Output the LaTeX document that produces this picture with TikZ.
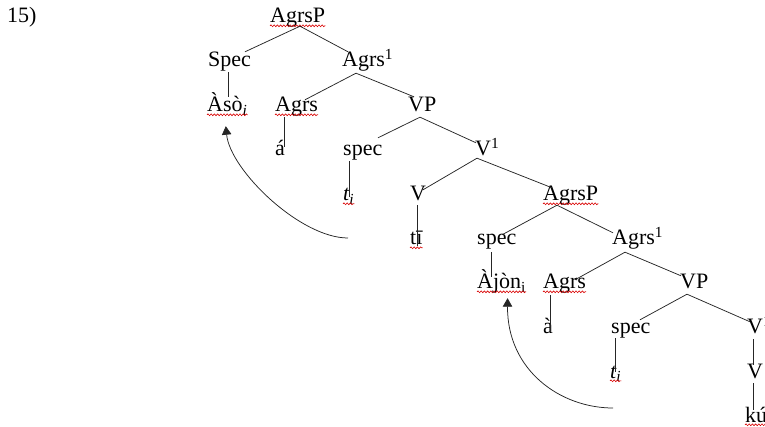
\documentclass[tikz,border=0pt]{standalone}
\usepackage{fontspec}
\setmainfont{Liberation Serif}
\usetikzlibrary{arrows.meta,decorations.pathmorphing,calc}

\tikzset{
  lab/.style={anchor=base west, inner sep=0pt, text height=15pt, text depth=5pt,
              font=\fontsize{22}{26}\selectfont},
  branch/.style={draw=black!85, line width=0.75pt},
  squig/.style={draw=red!85!black, line width=0.6pt, decorate,
                decoration={snake, amplitude=0.9pt, segment length=3.2pt}},
  movearrow/.style={draw=black!85, line width=0.75pt, -{Triangle[width=9.5pt,length=8.5pt]}},
}

\begin{document}
\begin{tikzpicture}[x=1pt,y=-1pt]
\path[use as bounding box] (0,0) rectangle (765,427);

% example number
\node[lab] (num) at (7,23) {15)};

% labels, one row per tree level
\node[lab] (AgrsP0)   at (270,23)  {AgrsP};
\node[lab] (Spec1)    at (208,67)  {Spec};
\node[lab] (AgrsBar1) at (342,67)  {Agrs\textsuperscript{1}};
\node[lab] (Aso2)     at (207,112) {Àsò\textsubscript{\itshape i}};
\node[lab] (Agrs2)    at (275,112) {Agrs};
\node[lab] (VP2)      at (408,112) {VP};
\node[lab] (a3)       at (275,156) {á};
\node[lab] (spec3)    at (343,156) {spec};
\node[lab] (Vbar3)    at (475,156) {V\textsuperscript{1}};
\node[lab] (t4)       at (343,201) {\textit{t\textsubscript{i}}};
\node[lab] (V4)       at (410,201) {V};
\node[lab] (AgrsP4)   at (543,201) {AgrsP};
\node[lab] (ti5)      at (410,245) {tī};
\node[lab] (spec5)    at (477,245) {spec};
\node[lab] (AgrsBar5) at (612,245) {Agrs\textsuperscript{1}};
\node[lab] (Ajon6)    at (477,289) {Àjòn\textsubscript{i}};
\node[lab] (Agrs6)    at (543,289) {Agrs};
\node[lab] (VP6)      at (680,289) {VP};
\node[lab] (a7)       at (543,334) {à};
\node[lab] (spec7)    at (611,334) {spec};
\node[lab] (Vbar7)    at (747,334) {V\textsuperscript{1}};
\node[lab] (t8)       at (610,378) {\textit{t\textsubscript{i}}};
\node[lab] (V8)       at (747,378) {V};
\node[lab] (ku9)      at (745,422) {kú};

% spell-check underlines
\foreach \n in {AgrsP0,Aso2,Agrs2,t4,ti5,AgrsP4,Ajon6,Agrs6,t8,ku9}
  \draw[squig] ([yshift=-2.8pt]\n.base west) -- ([yshift=-2.8pt]\n.base east);

% branching edges
\draw[branch] ([xshift=30pt,yshift=2pt]AgrsP0.south west) -- ([xshift=37pt]Spec1.north west);
\draw[branch] ([xshift=30pt,yshift=2pt]AgrsP0.south west) -- ([xshift=6pt]AgrsBar1.north west);
\draw[branch] ([xshift=14pt,yshift=-1pt]AgrsBar1.south west) -- ([xshift=30pt,yshift=-3pt]Agrs2.north west);
\draw[branch] ([xshift=14pt,yshift=-1pt]AgrsBar1.south west) -- ([xshift=6pt]VP2.north west);
\draw[branch] ([xshift=12pt]VP2.south west) -- ([xshift=35pt,yshift=3pt]spec3.north west);
\draw[branch] ([xshift=12pt]VP2.south west) -- ([xshift=1pt,yshift=-2pt]Vbar3.north west);
\draw[branch] ([xshift=2pt,yshift=3pt]Vbar3.south west) -- ([xshift=13pt,yshift=-4pt]V4.north west);
\draw[branch] ([xshift=2pt,yshift=3pt]Vbar3.south west) -- ([xshift=9pt,yshift=-2pt]AgrsP4.north west);
\draw[branch] ([xshift=14pt,yshift=1pt]AgrsP4.south west) -- ([xshift=25pt,yshift=-5pt]spec5.north west);
\draw[branch] ([xshift=14pt,yshift=1pt]AgrsP4.south west) -- ([xshift=1pt,yshift=-3pt]AgrsBar5.north west);
\draw[branch] ([xshift=13pt,yshift=-2pt]AgrsBar5.south west) -- ([xshift=32pt,yshift=-6pt]Agrs6.north west);
\draw[branch] ([xshift=13pt,yshift=-2pt]AgrsBar5.south west) -- ([xshift=1pt,yshift=-2pt]VP6.north west);
\draw[branch] ([xshift=7pt]VP6.south west) -- ([xshift=29pt,yshift=-1pt]spec7.north west);
\draw[branch] ([xshift=7pt]VP6.south west) -- ([xshift=3pt,yshift=-3pt]Vbar7.north west);

% unary (vertical) edges
\draw[branch] ([xshift=20pt]Spec1.south west) coordinate (u1) -- (u1 |- Aso2.north);
\draw[branch] ([xshift=9pt]Agrs2.south west) coordinate (u2) -- ($(u2 |- a3.north)+(0,-6pt)$);
\draw[branch] ([xshift=6pt]spec3.south west) coordinate (u3) -- ($(u3 |- t4.north)+(0,-11pt)$);
\draw[branch] ([xshift=7pt,yshift=1pt]V4.south west) coordinate (u4) -- ($(u4 |- ti5.north)+(0,-16pt)$);
\draw[branch] ([xshift=14pt,yshift=-2pt]spec5.south west) coordinate (u5) -- ($(u5 |- Ajon6.north)+(0,-3pt)$);
\draw[branch] ([xshift=7pt,yshift=-1pt]Agrs6.south west) coordinate (u6) -- ($(u6 |- a7.north)+(0,-13pt)$);
\draw[branch] ([xshift=4pt,yshift=1pt]spec7.south west) coordinate (u7) -- ($(u7 |- t8.north)+(0,-9pt)$);
\draw[branch] ([xshift=6pt]Vbar7.south west) coordinate (u8) -- ($(u8 |- V8.north)+(0,-2pt)$);
\draw[branch] ([xshift=6pt]V8.south west) coordinate (u9) -- ($(u9 |- ku9.north)+(0,-3pt)$);

% movement arrows
\coordinate (mv1) at (348,238);
\coordinate (mv2) at (613,408);
\draw[movearrow] (mv1) .. controls (300,238) and (230,170) .. ([xshift=-1.5pt,yshift=-9pt]Aso2.south);
\draw[movearrow] (mv2) .. controls (560,408) and (507,370) .. ([xshift=6pt,yshift=-4pt]Ajon6.south);
\end{tikzpicture}
\end{document}
